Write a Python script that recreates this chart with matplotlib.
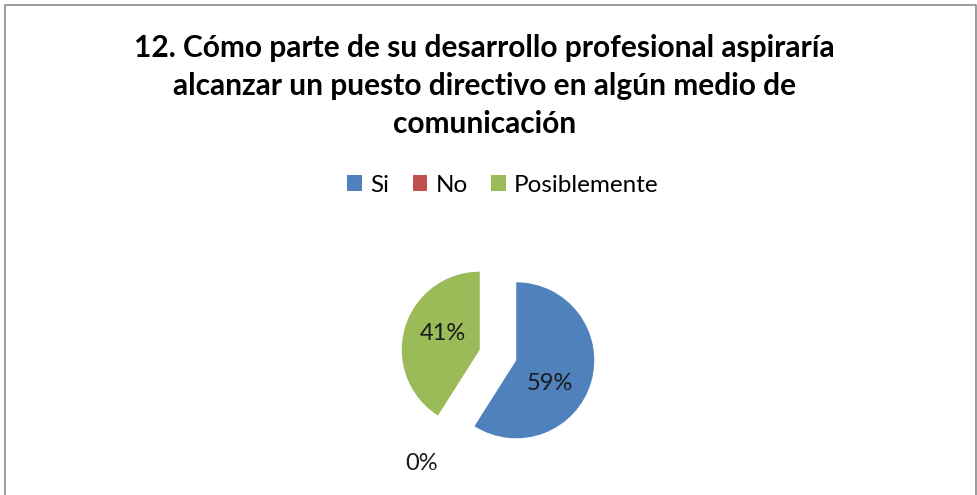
import matplotlib

matplotlib.use("Agg")
import matplotlib.pyplot as plt
from matplotlib.patches import Patch

plt.rcParams["font.family"] = ["Lato", "DejaVu Sans"]

title = ("12. Cómo parte de su desarrollo profesional aspiraría\n"
         "alcanzar un puesto directivo en algún medio de\ncomunicación")
categories = ["Si", "No", "Posiblemente"]
values = [59, 0, 41]
colors = ["#4F81BD", "#C0504D", "#9BBB59"]

W, H = 978, 495
fig = plt.figure(figsize=(W / 100, H / 100), dpi=100)
ax = fig.add_axes([0, 0, 1, 1])

# chart frame (cut off at the bottom like the original)
ax.plot([4.5, 4.5, 975.5, 975.5], [-5, H - 4.5, H - 4.5, -5], color="#8c8c8c", lw=1.2)

# axes are in pixel units, so radius / explode are in pixels
wedges, texts, autotexts = ax.pie(
    values, colors=colors, startangle=90, counterclock=False,
    center=(498, H - 355), radius=78, explode=[19, 19, 19],
    autopct="%1.0f%%", frame=True, wedgeprops={"linewidth": 0},
    textprops={"fontsize": 17, "color": "#1a1a1a"},
)
ax.set_xlim(0, W); ax.set_ylim(0, H)
ax.set_aspect("equal"); ax.axis("off")

# Excel-like label positions
label_pos = {0: (550, H - 383), 1: (422, H - 464), 2: (443, H - 333)}
for i, t in enumerate(autotexts):
    t.set_position(label_pos[i])
    t.set_ha("center"); t.set_va("center")

fig.text(0.495, 1 - 86 / H, title, ha="center", va="center", fontsize=21.5,
         fontweight="bold", linespacing=1.42, color="#000000")

handles = [Patch(facecolor=c, edgecolor="none") for c in colors]
fig.legend(handles, categories, loc="center", bbox_to_anchor=(503 / W, 1 - 185 / H),
           ncol=3, frameon=False, fontsize=17.5, handlelength=0.6, handleheight=0.6,
           handletextpad=0.35, columnspacing=0.95)

fig.savefig("out.png", dpi=100)
